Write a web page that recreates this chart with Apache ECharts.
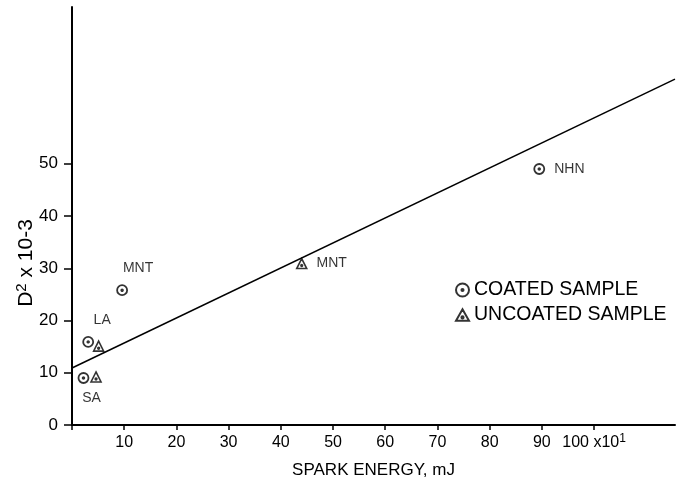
<!DOCTYPE html>
<html>
<head>
<meta charset="utf-8">
<script src="https://cdn.jsdelivr.net/npm/echarts@6/dist/echarts.min.js"></script>
<style>
    html, body {margin: 0; padding: 0; background: #fff;}
    #chart {width: 690px; height: 487px;}
</style>
</head>
<body>
<div id="chart"></div>
<script>
// values
var coatedNames = ['SA', 'LA', 'MNT', 'NHN'];
var coatedX = [2.2, 3.1, 9.6, 89.5];
var coatedY = [9.0, 15.9, 25.8, 49.0];

var uncoatedNames = ['', '', 'MNT'];
var uncoatedX = [4.6, 5.1, 44.0];
var uncoatedY = [9.2, 15.1, 30.9];

// fitted line, end points
var fitX = [0, 115.5];
var fitY = [10.9, 66.2];

var xTicks = [0, 10, 20, 30, 40, 50, 60, 70, 80, 90, 100];
var yTicks = [0, 10, 20, 30, 40, 50];

var circleSym = 'path://M0,-10A10,10 0 1,1 0,10A10,10 0 1,1 0,-10Z M0,-1.6A1.6,1.6 0 1,1 0,1.6A1.6,1.6 0 1,1 0,-1.6Z';
var triSym = 'path://M0,-10L9.5,7L-9.5,7Z M0,0.4A1.6,1.6 0 1,1 0,3.6A1.6,1.6 0 1,1 0,0.4Z';

// where each point label sits (by name)
var labelPos = {
    'SA': {position: 'bottom', offset: [8, 2]},
    'LA': {position: 'top', offset: [14, -4]},
    'MNT': {position: 'top', offset: [16, -4]},
    'NHN': {position: 'right', offset: [4, 0]}
};

function pts(xs, ys, names, side) {
    return xs.map(function (x, i) {
        var item = {value: [x, ys[i]], name: names[i]};
        var lp = side === 'right' ? {position: 'right', offset: [4, 0]} : labelPos[names[i]];
        if (names[i] && lp) {
            item.label = {
                show: true, position: lp.position, offset: lp.offset, formatter: names[i],
                color: '#000', fontSize: 14
            };
        }
        return item;
    });
}

var font = '"Liberation Sans", Arial, sans-serif';
var myChart = echarts.init(document.getElementById('chart'));

var option = {
    backgroundColor: '#fff',
    animation: false,
    textStyle: {fontFamily: font, color: '#000'},
    grid: {left: 72, right: 15, top: 7, bottom: 62, containLabel: false, outerBoundsMode: 'none'},
    legend: {
        orient: 'vertical',
        left: 450,
        top: 275,
        itemGap: 5,
        itemWidth: 13,
        itemHeight: 13,
        textStyle: {fontSize: 19.5, color: '#000', fontFamily: font},
        data: [
            {name: 'COATED SAMPLE', icon: circleSym},
            {name: 'UNCOATED SAMPLE', icon: triSym}
        ]
    },
    xAxis: {
        type: 'value',
        min: 0,
        max: 115.5,
        interval: 10,
        splitLine: {show: false},
        axisLine: {lineStyle: {color: '#000', width: 2}},
        axisTick: {customValues: xTicks, length: 5, lineStyle: {color: '#000', width: 1.5}},
        axisLabel: {
            customValues: xTicks.slice(1),
            fontSize: 16,
            color: '#000',
            margin: 8,
            formatter: function (v) {
                return v === 100 ? '{b|100 x10}{sup|1}' : '{b|' + v + '}';
            },
            rich: {
                b: {fontSize: 16, lineHeight: 20, color: '#000'},
                sup: {fontSize: 12, lineHeight: 20, verticalAlign: 'top', color: '#000'}
            }
        },
        name: 'SPARK ENERGY, mJ',
        nameLocation: 'middle',
        nameGap: 37,
        nameMoveOverlap: false,
        nameTextStyle: {fontSize: 17, color: '#000', fontFamily: font}
    },
    yAxis: {
        type: 'value',
        min: 0,
        max: 80,
        interval: 10,
        splitLine: {show: false},
        axisLine: {lineStyle: {color: '#000', width: 2}},
        axisTick: {customValues: yTicks, length: 8, lineStyle: {color: '#000', width: 1.5}},
        axisLabel: {customValues: yTicks, fontSize: 17, color: '#000', margin: 14},
        name: '{b|D}{sup|2}{b| x 10-3}',
        nameLocation: 'middle',
        nameGap: 34,
        nameMoveOverlap: false,
        nameTextStyle: {
            fontSize: 21, color: '#000', fontFamily: font,
            padding: [0, 94, 0, 0],
            rich: {
                b: {fontSize: 21, lineHeight: 24, color: '#000'},
                sup: {fontSize: 15, lineHeight: 24, verticalAlign: 'top', color: '#000'}
            }
        }
    },
    series: [
        {
            name: 'fit',
            type: 'line',
            data: fitX.map(function (x, i) { return [x, fitY[i]]; }),
            symbol: 'none',
            lineStyle: {color: '#000', width: 1.5},
            z: 1
        },
        {
            name: 'COATED SAMPLE',
            type: 'scatter',
            data: pts(coatedX, coatedY, coatedNames),
            symbol: circleSym,
            symbolSize: 10,
            itemStyle: {color: '#fff', borderColor: '#000', borderWidth: 1.8},
            label: {color: '#000', fontSize: 14, fontFamily: font},
            z: 3
        },
        {
            name: 'UNCOATED SAMPLE',
            type: 'scatter',
            data: pts(uncoatedX, uncoatedY, uncoatedNames, 'right'),
            symbol: triSym,
            symbolSize: 10,
            itemStyle: {color: '#fff', borderColor: '#000', borderWidth: 1.6},
            label: {color: '#000', fontSize: 14, fontFamily: font},
            z: 3
        }
    ]
};
myChart.setOption(option);
</script>
</body>
</html>
